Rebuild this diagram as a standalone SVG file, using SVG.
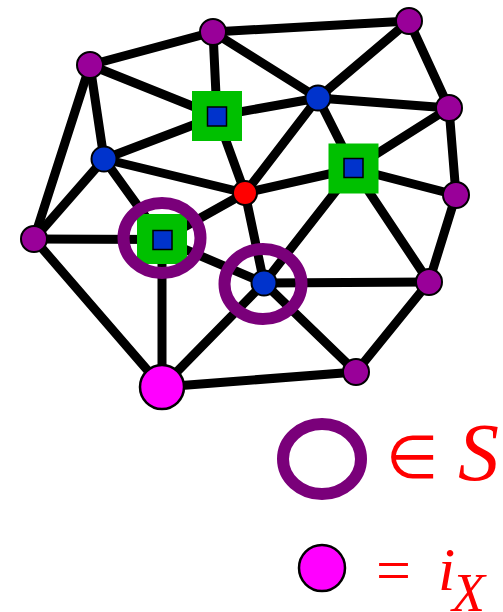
<svg xmlns="http://www.w3.org/2000/svg" width="503" height="612" viewBox="0 0 503 612">
<style>
.e{stroke:#000;stroke-width:9;stroke-linecap:round}
.p{fill:#990099;stroke:#000;stroke-width:2}
.b{fill:#0033cc;stroke:#000;stroke-width:2}
.r{fill:#ff0000;stroke:#000;stroke-width:2}
.m{fill:#ff00ff;stroke:#000;stroke-width:2.5}
.g{fill:#00c000}
.gi{fill:#0033cc;stroke:#000;stroke-width:1.5}
.ring{fill:none;stroke:#7a007a;stroke-width:12}
.t{fill:#ff0000;font-family:"Liberation Serif",serif}
</style>
<rect width="503" height="612" fill="#fff"/>
<g id="edges">
<line class="e" x1="90" y1="65" x2="213" y2="32"/>
<line class="e" x1="213" y1="32" x2="409" y2="21"/>
<line class="e" x1="90" y1="65" x2="217" y2="116"/>
<line class="e" x1="90" y1="65" x2="104" y2="159"/>
<line class="e" x1="90" y1="65" x2="34" y2="239"/>
<line class="e" x1="213" y1="32" x2="217" y2="116"/>
<line class="e" x1="213" y1="32" x2="318" y2="98"/>
<line class="e" x1="217" y1="116" x2="318" y2="98"/>
<line class="e" x1="217" y1="116" x2="104" y2="159"/>
<line class="e" x1="217" y1="116" x2="245" y2="193"/>
<line class="e" x1="409" y1="21" x2="318" y2="98"/>
<line class="e" x1="409" y1="21" x2="449" y2="108"/>
<line class="e" x1="318" y1="98" x2="449" y2="108"/>
<line class="e" x1="318" y1="98" x2="245" y2="193"/>
<line class="e" x1="318" y1="98" x2="353.5" y2="168.5"/>
<line class="e" x1="449" y1="108" x2="353.5" y2="168.5"/>
<line class="e" x1="449" y1="108" x2="456" y2="195"/>
<line class="e" x1="353.5" y1="168.5" x2="245" y2="193"/>
<line class="e" x1="353.5" y1="168.5" x2="456" y2="195"/>
<line class="e" x1="353.5" y1="168.5" x2="264" y2="283"/>
<line class="e" x1="353.5" y1="168.5" x2="429" y2="282"/>
<line class="e" x1="456" y1="195" x2="429" y2="282"/>
<line class="e" x1="104" y1="159" x2="245" y2="193"/>
<line class="e" x1="104" y1="159" x2="34" y2="239"/>
<line class="e" x1="104" y1="159" x2="162" y2="239.5"/>
<line class="e" x1="34" y1="239" x2="162" y2="239.5"/>
<line class="e" x1="34" y1="239" x2="162" y2="387"/>
<line class="e" x1="162" y1="239.5" x2="162" y2="387"/>
<line class="e" x1="162" y1="239.5" x2="245" y2="193"/>
<line class="e" x1="162" y1="239.5" x2="264" y2="283"/>
<line class="e" x1="245" y1="193" x2="264" y2="283"/>
<line class="e" x1="264" y1="283" x2="429" y2="282"/>
<line class="e" x1="264" y1="283" x2="162" y2="387"/>
<line class="e" x1="264" y1="283" x2="356" y2="372"/>
<line class="e" x1="429" y1="282" x2="356" y2="372"/>
<line class="e" x1="162" y1="387" x2="356" y2="372"/>
</g>
<g id="nA"><circle class="p" cx="90" cy="65" r="13"/></g>
<g id="nB"><circle class="p" cx="213" cy="32" r="13"/></g>
<g id="nD"><circle class="p" cx="409" cy="21" r="13"/></g>
<g id="nF"><circle class="p" cx="449" cy="108" r="13"/></g>
<g id="nG"><circle class="p" cx="456" cy="195" r="13"/></g>
<g id="nH"><circle class="p" cx="34" cy="239" r="13"/></g>
<g id="nJ"><circle class="p" cx="429" cy="282" r="13"/></g>
<g id="nK"><circle class="p" cx="356" cy="372" r="13"/></g>
<g id="nC"><circle class="b" cx="104" cy="159" r="12.5"/></g>
<g id="nE"><circle class="b" cx="318" cy="98" r="12.5"/></g>
<g id="nI"><circle class="b" cx="264" cy="283" r="12.5"/></g>
<g id="nR"><circle class="r" cx="245" cy="193" r="12"/></g>
<g id="nM"><circle class="m" cx="162" cy="387" r="22"/></g>
<g id="nS1"><rect class="g" x="192" y="91" width="50" height="50"/><rect class="gi" x="207.5" y="107" width="19" height="19"/></g>
<g id="nS2"><rect class="g" x="328.5" y="143.5" width="50" height="50"/><rect class="gi" x="344" y="158.5" width="19" height="19"/></g>
<g id="nS3"><rect class="g" x="137" y="214" width="50" height="50"/><rect class="gi" x="153" y="230.5" width="19" height="19"/><ellipse class="ring" cx="162" cy="238" rx="38.5" ry="35"/></g>
<g id="ringI"><ellipse class="ring" cx="263" cy="284" rx="38.5" ry="35"/></g>
<g id="legend">
<ellipse class="ring" cx="322" cy="459" rx="39" ry="35"/>
<text class="t" x="386" y="478" font-size="60">∈</text>
<text class="t" x="458" y="480" font-size="82" font-style="italic">S</text>
<circle class="m" cx="322" cy="568" r="23"/>
<text class="t" x="376" y="591" font-size="62">=</text>
<text class="t" x="438" y="590" font-size="62" font-style="italic">i</text>
<text class="t" x="452" y="611" font-size="54" font-style="italic">X</text>
</g>
</svg>
